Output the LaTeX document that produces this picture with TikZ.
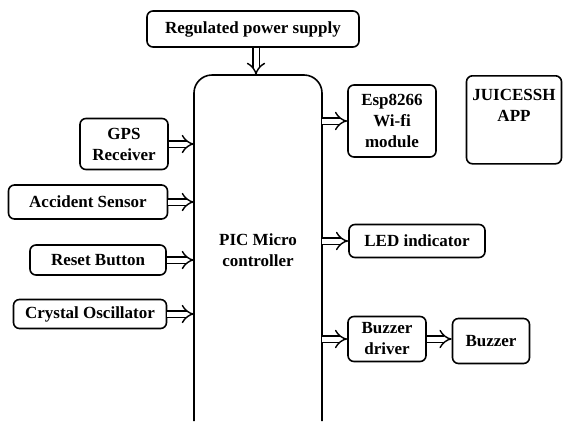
\documentclass[tikz,border=0pt]{standalone}
\usepackage{fontspec}
\setmainfont{Liberation Serif}
\usetikzlibrary{arrows.meta}
\begin{document}
\begin{tikzpicture}[x=1pt,y=-1pt,
  blk/.style={draw, line width=1.6pt, rounded corners=6pt, inner sep=0pt, align=center,
    font=\bfseries\fontsize{17}{21}\selectfont},
  dar/.style={draw, line width=1.4pt, double, double distance=5pt, -{Implies}},
]
\useasboundingbox (0,0) rectangle (563,421);
% main controller outline (open at the bottom)
\draw[line width=1.6pt, rounded corners=18pt] (194,421) -- (194,75) -- (322,75) -- (322,421);
\coordinate (picL) at (194,250);
\coordinate (picR) at (322,250);
\coordinate (picT) at (258,75);
\node[font=\bfseries\fontsize{17}{21}\selectfont, align=center] (pic) at (258,250) {PIC Micro\\controller};

\node[blk, minimum width=212pt, minimum height=36pt] (rps) at (253,29) {Regulated power supply};
\node[blk, minimum width=88pt, minimum height=51pt] (gps) at (124,144) {GPS\\Receiver};
\node[blk, minimum width=159pt, minimum height=34pt] (acc) at (88,202) {Accident Sensor};
\node[blk, minimum width=136pt, minimum height=30pt] (rst) at (98,260) {Reset Button};
\node[blk, minimum width=153pt, minimum height=29pt] (xtal) at (90,314) {Crystal Oscillator};

\node[blk, minimum width=88pt, minimum height=72pt] (esp) at (392,121) {Esp8266\\Wi-fi\\module};
\node[blk, minimum width=95pt, minimum height=88pt, anchor=north] (app) at (514,75) {};
\node[font=\bfseries\fontsize{17}{21}\selectfont, align=center, anchor=north] (apptxt) at (514,86) {JUICESSH\\APP};
\node[blk, minimum width=136pt, minimum height=33pt] (led) at (417,241) {LED indicator};
\node[blk, minimum width=78pt, minimum height=45pt] (bdrv) at (387,339) {Buzzer\\driver};
\node[blk, minimum width=77pt, minimum height=45pt] (buz) at (491,341) {Buzzer};

\draw[dar] (rps.south -| 256,0) -- (picT -| 256,0);
\draw[dar] (gps.east) -- (gps.east -| picL);
\draw[dar] (acc.east) -- (acc.east -| picL);
\draw[dar] (rst.east) -- (rst.east -| picL);
\draw[dar] (xtal.east) -- (xtal.east -| picL);
\draw[dar] (esp.west -| picR) -- (esp.west);
\draw[dar] (led.west -| picR) -- (led.west);
\draw[dar] (bdrv.west -| picR) -- (bdrv.west);
\draw[dar] (bdrv.east) -- (bdrv.east -| buz.west);
\end{tikzpicture}
\end{document}
